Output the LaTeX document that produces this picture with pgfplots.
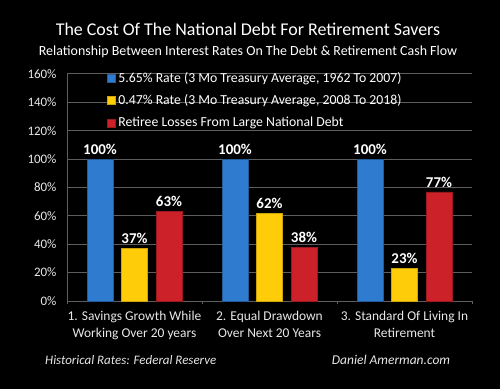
\documentclass[border=0pt]{standalone}
\usepackage{pgfplots}
\pgfplotsset{compat=1.18}
\usepackage{fontspec}
\setmainfont{Carlito}
\definecolor{cblue}{HTML}{2E7BCF}
\definecolor{cyellow}{HTML}{FFCC0A}
\definecolor{cred}{HTML}{CD2129}
\definecolor{cgrid}{HTML}{5E5E5E}
\definecolor{ctext}{HTML}{E8E8E8}
\begin{document}
\begin{tikzpicture}[x=1bp,y=1bp]
\fill[black] (0,0) rectangle (500,389);
\node[text=white, font=\fontsize{18}{21}\selectfont] at (248,360) {The Cost Of The National Debt For Retirement Savers};
\node[text=white, font=\fontsize{14}{17}\selectfont] at (248,337) {Relationship Between Interest Rates On The Debt \& Retirement Cash Flow};
\begin{axis}[
  at={(67bp,88bp)}, anchor=south west,
  scale only axis, width=405bp, height=227bp,
  ybar=8.5bp, bar width=26bp,
  xmin=-0.5, xmax=2.5, ymin=0, ymax=160,
  ytick={0,20,...,160},
  yticklabels={0\%,20\%,40\%,60\%,80\%,100\%,120\%,140\%,160\%},
  xtick={0,1,2},
  xticklabels={{1. Savings Growth While\\Working Over 20 years},{2. Equal Drawdown\\Over Next 20 Years},{3. Standard Of Living In\\Retirement}},
  minor xtick={-0.5,0.5,1.5,2.5},
  major tick length=0pt, minor tick length=3bp, tick align=outside,
  tick style={draw=cgrid, line width=0.8bp},
  axis x line*=bottom, axis y line*=left,
  axis line style={draw=cgrid, line width=1bp, -},
  ymajorgrids, major grid style={draw=cgrid, line width=1bp},
  yticklabel style={text=ctext, font=\fontsize{13}{15}\selectfont, xshift=-7bp},
  xticklabel style={text=ctext, font=\fontsize{13.5}{17}\selectfont, align=center, yshift=-7bp},
  clip=false,
  nodes near coords={\pgfmathprintnumber[assume math mode=true]{\pgfplotspointmeta}\%},
  every node near coord/.append style={text=white, font=\bfseries\fontsize{15}{17}\selectfont, yshift=1bp},
  legend image code/.code={\fill[#1] (0bp,-4bp) rectangle (8bp,4bp);},
  legend cell align=left,
  legend style={at={(rel axis cs:0.091,1.022)}, anchor=north west, draw=none, fill=none,
    text=white, font=\fontsize{13.8}{16}\selectfont, row sep=9bp, column sep=2bp,
    nodes={inner sep=1bp}},
]
\addplot[fill=cblue, draw=cblue!75!black] coordinates {(0,100) (1,100) (2,100)};
\addlegendentry{5.65\% Rate (3 Mo Treasury Average, 1962 To 2007)}
\addplot[fill=cyellow, draw=cyellow!80!black] coordinates {(0,37) (1,62) (2,23)};
\addlegendentry{0.47\% Rate (3 Mo Treasury Average, 2008 To 2018)}
\addplot[fill=cred, draw=cred!75!black] coordinates {(0,63) (1,38) (2,77)};
\addlegendentry{Retiree Losses From Large National Debt}
\end{axis}
\node[text=ctext, font=\itshape\fontsize{13}{16}\selectfont, anchor=west, inner sep=0pt] at (45,29) {Historical Rates: Federal Reserve};
\node[text=ctext, font=\itshape\fontsize{13.5}{16}\selectfont] at (391,29) {Daniel Amerman.com};
\end{tikzpicture}
\end{document}
